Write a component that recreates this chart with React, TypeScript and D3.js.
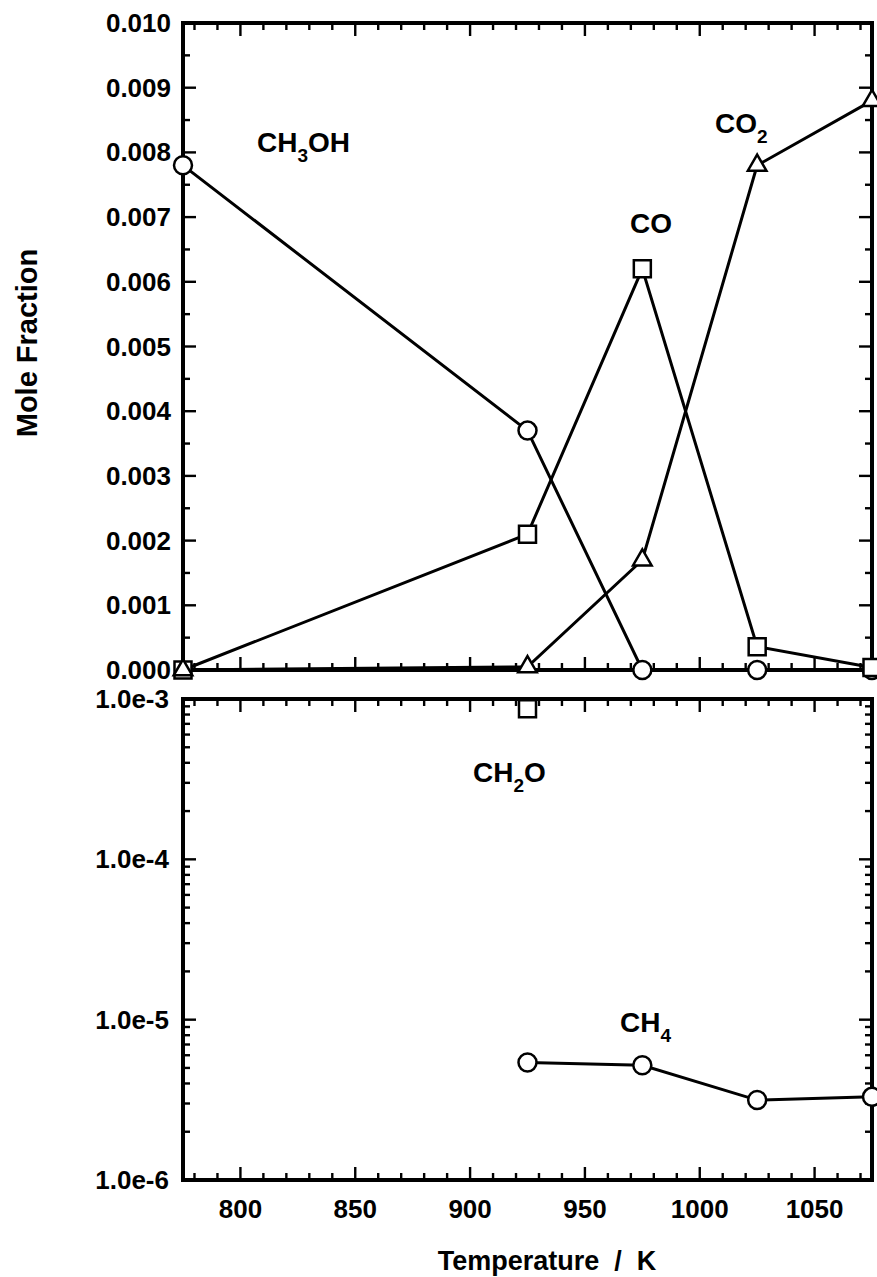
import React from "react";
import * as d3 from "d3";

// ---- data ----
const temps = [775, 925, 975, 1025, 1075];
const ch3oh = [0.0078, 0.0037, 0.0, 0.0, 0.0];
const co = [0.0, 0.0021, 0.0062, 0.00036, 0.00004];
const co2 = [0.0, 0.00005, 0.0017, 0.0078, 0.0088];
const ch4Temps = [925, 975, 1025, 1075];
const ch4 = [5.4e-6, 5.2e-6, 3.15e-6, 3.3e-6];
const ch2oTemps = [925];
const ch2o = [8.7e-4];
const xTickValues = [800, 850, 900, 950, 1000, 1050];
const linTickValues = [0, 0.001, 0.002, 0.003, 0.004, 0.005, 0.006, 0.007, 0.008, 0.009, 0.01];
const linTickLabels = ["0.000", "0.001", "0.002", "0.003", "0.004", "0.005", "0.006", "0.007", "0.008", "0.009", "0.010"];
const logTickValues = [1e-6, 1e-5, 1e-4, 1e-3];
const logTickLabels = ["1.0e-6", "1.0e-5", "1.0e-4", "1.0e-3"];

const FONT = "'Liberation Sans', Arial, Helvetica, sans-serif";

const L = 183, R = 872;
const topT = 23, topB = 670, botT = 699, botB = 1180;
const MAJ = 13, MIN = 7;

const x = d3.scaleLinear().domain([775, 1075]).range([L, R]);
const yLin = d3.scaleLinear().domain([0, 0.01]).range([topB, topT]);
const yLog = d3.scaleLog().domain([1e-6, 1e-3]).range([botB, botT]);

const xMinor = d3.range(780, 1075, 10);
const linMinor = d3.range(0, 0.01001, 0.0005);
const logMinor: number[] = [];
[-6, -5, -4].forEach((e) => {
  for (let k = 1; k <= 9; k++) logMinor.push(k * Math.pow(10, e));
});
logMinor.push(1e-3);

const circle = (r: number) => d3.symbol().type(d3.symbolCircle).size(Math.PI * r * r)();
const square = d3.symbol().type(d3.symbolSquare).size(17 * 17)();
const triangle = d3.symbol().type(d3.symbolTriangle).size(150)();

function Frame({ top, bottom, yTicks, yScale, majorTest }: any) {
  const els: any[] = [];
  xMinor.forEach((t, i) => {
    const len = t % 50 === 0 ? MAJ : MIN;
    const px = x(t);
    els.push(<line key={"b" + i} x1={px} x2={px} y1={bottom} y2={bottom - len} />);
    els.push(<line key={"t" + i} x1={px} x2={px} y1={top} y2={top + len} />);
  });
  yTicks.forEach((v: number, i: number) => {
    const len = majorTest(v) ? MAJ : MIN;
    const py = yScale(v);
    els.push(<line key={"l" + i} x1={L} x2={L + len} y1={py} y2={py} />);
    els.push(<line key={"r" + i} x1={R} x2={R - len} y1={py} y2={py} />);
  });
  return (
    <g stroke="#000" fill="none">
      <g strokeWidth={2.4}>{els}</g>
      <path d={`M${L},${top}H${R}V${bottom}H${L}Z`} strokeWidth={4} strokeLinejoin="miter" />
    </g>
  );
}

function Species({ x0, y0, parts }: { x0: number; y0: number; parts: [string, boolean][] }) {
  return (
    <text x={x0} y={y0} fontFamily={FONT} fontWeight="bold" fontSize={28} fill="#000">
      {parts.map(([t, sub], i) =>
        sub ? (
          <tspan key={i} fontSize={19} dy={10}>{t}</tspan>
        ) : (
          <tspan key={i} dy={i > 0 && parts[i - 1][1] ? -10 : 0}>{t}</tspan>
        )
      )}
    </text>
  );
}

export default function App() {
  const lin = (ys: number[]) =>
    d3.line<number>().x((_, i) => x(temps[i])).y((d) => yLin(d))(ys) as string;
  const logLine = d3
    .line<number>()
    .x((_, i) => x(ch4Temps[i]))
    .y((d) => yLog(d))(ch4) as string;

  const markers = (xs: number[], ys: number[], ys2: (v: number) => number, path: string, key: string) =>
    ys.map((v, i) => (
      <path key={key + i} d={path} transform={`translate(${x(xs[i])},${ys2(v)})`} fill="#fff" stroke="#000" strokeWidth={2.5} />
    ));

  return (
    <svg width={877} height={1277} style={{ position: "absolute", left: 0, top: 0, background: "#fff" }}>
      <rect width={877} height={1277} fill="#fff" />
      <Frame top={topT} bottom={topB} yTicks={linMinor} yScale={yLin}
        majorTest={(v: number) => Math.abs(v * 1000 - Math.round(v * 1000)) < 1e-6} />
      <Frame top={botT} bottom={botB} yTicks={logMinor} yScale={yLog}
        majorTest={(v: number) => Math.abs(Math.log10(v) - Math.round(Math.log10(v))) < 1e-6} />

      {/* tick labels */}
      <g fontFamily={FONT} fontWeight="bold" fontSize={26} fill="#000">
        {linTickValues.map((v, i) => (
          <text key={"yl" + i} x={L - 12} y={yLin(v)} textAnchor="end" dominantBaseline="central">{linTickLabels[i]}</text>
        ))}
        {logTickValues.map((v, i) => (
          <text key={"yg" + i} x={L - 14} y={yLog(v)} textAnchor="end" dominantBaseline="central">{logTickLabels[i]}</text>
        ))}
        {xTickValues.map((v, i) => (
          <text key={"xt" + i} x={x(v)} y={botB + 38} textAnchor="middle">{v}</text>
        ))}
      </g>

      {/* data lines */}
      <g fill="none" stroke="#000" strokeWidth={3}>
        <path d={lin(ch3oh)} />
        <path d={lin(co)} />
        <path d={lin(co2)} />
        <path d={logLine} />
      </g>

      {/* markers */}
      {markers(temps, ch3oh, yLin, circle(9), "c")}
      {markers(temps, co, yLin, square, "s")}
      {markers(temps, co2, yLin, triangle, "t")}
      {markers(ch2oTemps, ch2o, yLog, square, "f")}
      {markers(ch4Temps, ch4, yLog, circle(9), "m")}

      {/* species labels */}
      <Species x0={257} y0={152} parts={[["CH", false], ["3", true], ["OH", false]]} />
      <Species x0={630} y0={233} parts={[["CO", false]]} />
      <Species x0={715} y0={133} parts={[["CO", false], ["2", true]]} />
      <Species x0={473} y0={782} parts={[["CH", false], ["2", true], ["O", false]]} />
      <Species x0={620} y0={1032} parts={[["CH", false], ["4", true]]} />

      {/* axis titles */}
      <text x={547} y={1270} textAnchor="middle" fontFamily={FONT} fontWeight="bold" fontSize={27} fill="#000" style={{ whiteSpace: "pre" }}>
        Temperature  /  K
      </text>
      <text transform="translate(37,343) rotate(-90)" textAnchor="middle" fontFamily={FONT} fontWeight="bold" fontSize={29} fill="#000">
        Mole Fraction
      </text>
    </svg>
  );
}
